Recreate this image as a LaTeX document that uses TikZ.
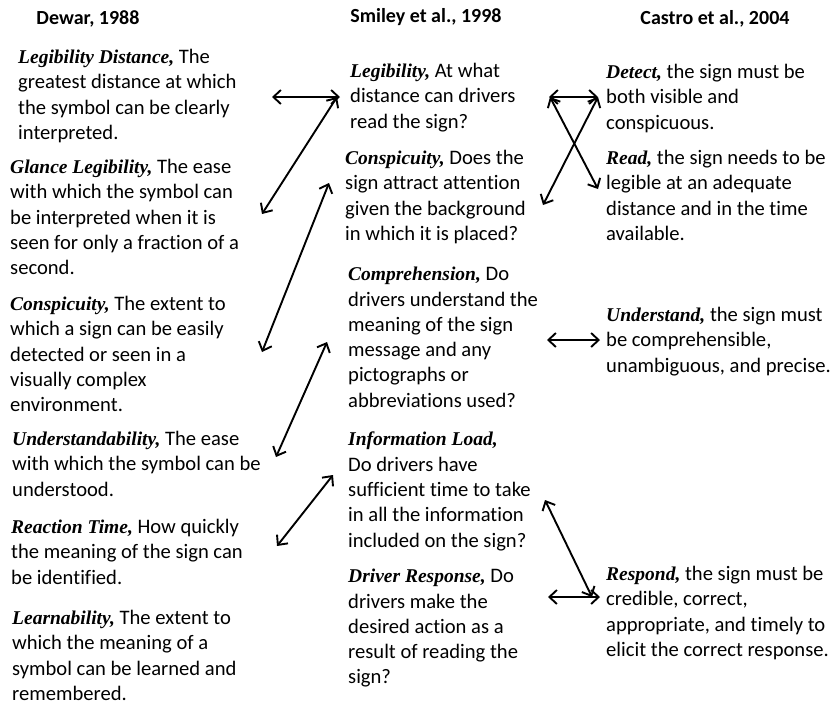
\documentclass[tikz,border=0pt]{standalone}
\usepackage{fontspec}
\setmainfont{Carlito}[Ligatures=NoCommon]
\newfontfamily\tnr{Liberation Serif}
\usetikzlibrary{arrows.meta}
\newcommand\term[1]{{\tnr\fontsize{19.5}{25.3}\selectfont\bfseries\itshape #1,}}
\begin{document}
\begin{tikzpicture}[x=1pt, y=-1pt,
  every node/.style={inner sep=0pt},
  head/.style={font=\fontsize{20}{24}\selectfont\bfseries},
  txt/.style={anchor=north west, align=left, font=\fontsize{20.6}{25.3}\selectfont},
  link/.style={{Straight Barb[length=7.5pt,width=14pt]}-{Straight Barb[length=7.5pt,width=14pt]}, line width=1.9pt}]
\useasboundingbox (0,0) rectangle (832,705);
\node[head] (dewar) at (88,19) {Dewar, 1988};
\node[head] (smiley) at (426,17) {Smiley et al., 1998};
\node[head] (castro) at (715,19) {Castro et al., 2004};
\node[txt] (dlegd) at (18,49) {\term{Legibility Distance} The\\greatest distance at which\\the symbol can be clearly\\interpreted.};
\node[txt] (dglance) at (10,159) {\term{Glance Legibility} The ease\\with which the symbol can\\be interpreted when it is\\seen for only a fraction of a\\second.};
\node[txt] (dconsp) at (10,296) {\term{Conspicuity} The extent to\\which a sign can be easily\\detected or seen in a\\visually complex\\environment.};
\node[txt] (dunder) at (12,431) {\term{Understandability} The ease\\with which the symbol can be\\understood.};
\node[txt] (dreact) at (11,519) {\term{Reaction Time} How quickly\\the meaning of the sign can\\be identified.};
\node[txt] (dlearn) at (12,610) {\term{Learnability} The extent to\\which the meaning of a\\symbol can be learned and\\remembered.};
\node[txt] (sleg) at (350,63) {\term{Legibility} At what\\distance can drivers\\read the sign?};
\node[txt] (sconsp) at (345,150) {\term{Conspicuity} Does the\\sign attract attention\\given the background\\in which it is placed?};
\node[txt] (scomp) at (348,267) {\term{Comprehension} Do\\drivers understand the\\meaning of the sign\\message and any\\pictographs or\\abbreviations used?};
\node[txt] (sload) at (348,432) {\term{Information Load}\\Do drivers have\\sufficient time to take\\in all the information\\included on the sign?};
\node[txt] (sresp) at (348,569) {\term{Driver Response} Do\\drivers make the\\desired action as a\\result of reading the\\sign?};
\node[txt] (cdetect) at (606,64) {\term{Detect} the sign must be\\both visible and\\conspicuous.};
\node[txt] (cread) at (606,150) {\term{Read} the sign needs to be\\legible at an adequate\\distance and in the time\\available.};
\node[txt] (cunder) at (606,307) {\term{Understand} the sign must\\be comprehensible,\\unambiguous, and precise.};
\node[txt] (cresp) at (606,566) {\term{Respond} the sign must be\\credible, correct,\\appropriate, and timely to\\elicit the correct response.};
\coordinate (dlegd-e) at (272,97);
\coordinate (sleg-w) at (340,97);
\coordinate (sleg-sw) at (337,97);
\coordinate (dglance-e) at (262,214);
\coordinate (sconsp-w) at (329,183);
\coordinate (dconsp-e) at (262,352);
\coordinate (scomp-w) at (327,342);
\coordinate (dunder-e) at (276,457);
\coordinate (sload-w) at (333,475);
\coordinate (dreact-e) at (277,546);
\coordinate (sleg-e) at (549,97);
\coordinate (sleg-se) at (550,97);
\coordinate (cdetect-w) at (598,97);
\coordinate (cread-w) at (598,189);
\coordinate (sconsp-e) at (543,205);
\coordinate (scomp-e) at (547,340);
\coordinate (cunder-w) at (600,340);
\coordinate (sload-e) at (545,500);
\coordinate (cresp-w) at (592,597);
\coordinate (sresp-e) at (548,597);
\coordinate (cresp-ww) at (600,597);
\draw[link] (dlegd-e) -- (sleg-w);
\draw[link] (sleg-sw) -- (dglance-e);
\draw[link] (sconsp-w) -- (dconsp-e);
\draw[link] (scomp-w) -- (dunder-e);
\draw[link] (sload-w) -- (dreact-e);
\draw[link] (sleg-e) -- (cdetect-w);
\draw[link] (sleg-se) -- (cread-w);
\draw[link] (cdetect-w) -- (sconsp-e);
\draw[link] (scomp-e) -- (cunder-w);
\draw[link] (sload-e) -- (cresp-w);
\draw[link] (sresp-e) -- (cresp-ww);
\end{tikzpicture}
\end{document}
